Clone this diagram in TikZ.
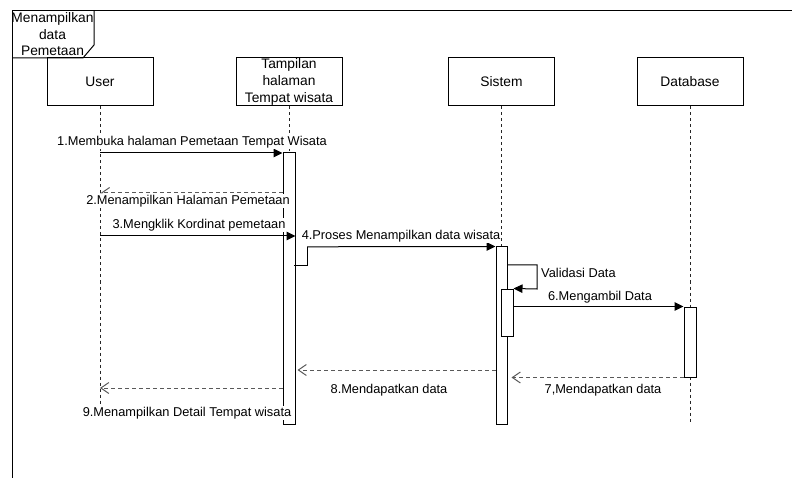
\documentclass[tikz,border=0pt]{standalone}
\usepackage{fontspec}
\setmainfont{Liberation Sans}
\usetikzlibrary{arrows.meta,calc}
\begin{document}
\begin{tikzpicture}[x=1pt,y=-1pt,
  actor/.style={draw=black, line width=1pt, minimum width=106pt, minimum height=48pt, inner sep=0pt, align=center, font=\fontsize{13.8}{17}\selectfont},
  act/.style={draw=black, fill=white, line width=1pt, inner sep=0pt},
  life/.style={draw=black!85, line width=0.9pt, dash pattern=on 3pt off 3pt},
  msg/.style={draw=black, line width=1pt, -{Triangle[length=9pt,width=8.5pt]}},
  ret/.style={draw=black!65, line width=1pt, dash pattern=on 4pt off 3pt, -{Straight Barb[length=8pt,width=11pt]}},
  lbl/.style={fill=white, inner sep=1pt, font=\fontsize{12.8}{15}\selectfont},
]
\useasboundingbox (0,0) rectangle (792,478);

% frame
\draw[line width=1pt] (12,478) -- (12,11) -- (792,11);
\draw[line width=1pt] (12,58) -- (83,58) -- (94,45) -- (94,11);
\node[align=center, inner sep=0pt, font=\fontsize{13.8}{16.5}\selectfont] (title) at (52.5,34.5) {Menampilkan\\data\\Pemetaan};

% actors
\node[actor] (user) at (100,82) {User};
\node[actor] (tamp) at (289,82) {Tampilan\\halaman\\Tempat wisata};
\node[actor] (sis) at (501.5,82) {Sistem};
\node[actor] (db) at (690,82) {Database};

% lifeline ends
\coordinate (uEnd) at (100,410);
\coordinate (tEnd) at (289,424);
\coordinate (sEnd) at (501.5,424);
\coordinate (dEnd) at (690,422);

\draw[life] (user.south) -- (uEnd);
\draw[life] (tamp.south) -- (tEnd);
\draw[life] (sis.south) -- (sEnd);
\draw[life] (db.south) -- (dEnd);

% activations
\node[act, minimum width=12pt, minimum height=271pt] (aT) at (289,288.5) {};
\node[inner sep=0pt, minimum width=13pt, minimum height=18pt] (aT2) at (300.5,256) {};
\draw[line width=1pt] (aT2.south west) -- (aT2.south east) -- (aT2.north east);
\node[act, minimum width=11pt, minimum height=177pt] (aS) at (501.5,335.5) {};
\node[act, minimum width=12pt, minimum height=47pt] (aS2) at (507,312.5) {};
\node[act, minimum width=12pt, minimum height=70pt] (aD) at (690,342) {};

% message anchor coordinates
\coordinate (u1) at (100,153);
\coordinate (u2) at (100,193);
\coordinate (u3) at (100,236);
\coordinate (u9) at (100,388);
\coordinate (s8) at (496,370);
\coordinate (selfA) at (507,265);
\coordinate (selfB) at (537,289);

% messages
\draw[msg] (u1) -- (aT.west |- u1);
\draw[draw=black!65, line width=1pt, dash pattern=on 4pt off 3pt, -{Straight Barb[right,length=8pt,width=11pt]}] (aT.west |- u2) -- (u2);
\draw[msg] (u3) -- (aT.east |- u3);
\draw[msg] (aT2.north east) -- (aS.north west);
\draw[msg] (selfA) -| (selfB) -- (aS2.north east);
\draw[msg] (aS2.east |- aD.north west) -- (aD.north west);
\draw[ret] (aD.south west) -- ([xshift=4pt]aS.east |- aD.south west);
\draw[ret] (aS.west |- s8) -- ([xshift=2pt]aT.east |- s8);
\draw[ret] (aT.west |- u9) -- (u9);

% labels
\node[lbl] (l1) at (192,142) {1.Membuka halaman Pemetaan Tempat Wisata};
\node[lbl] (l2) at (188,201) {2.Menampilkan Halaman Pemetaan};
\node[lbl] (l3) at (199,225) {3.Mengklik Kordinat pemetaan};
\node[lbl] (l4) at (401,236) {4.Proses Menampilkan data wisata};
\node[lbl, anchor=west] (l5) at (540,273) {Validasi Data};
\node[lbl] (l6) at (600,297) {6.Mengambil Data};
\node[lbl] (l7) at (603,390) {7,Mendapatkan data};
\node[lbl] (l8) at (389,390) {8.Mendapatkan data};
\node[lbl] (l9) at (187,413) {9.Menampilkan Detail Tempat wisata};
\end{tikzpicture}
\end{document}
